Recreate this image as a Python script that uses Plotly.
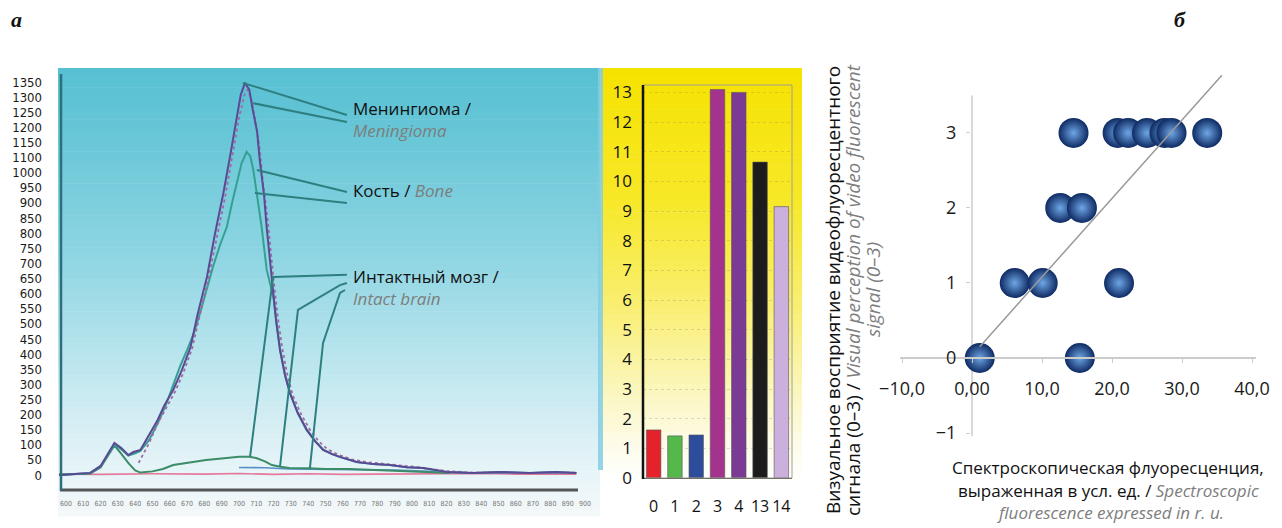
import plotly.graph_objects as go

W, H = 1282, 528
FONT = "Open Sans, Noto Sans, sans-serif"
GRAY_IT = "#7d7d7d"

# ---------------- Panel а : fluorescence spectra ----------------
wl_ticks = list(range(600, 901, 10))
spec_tickvals = list(range(0, 1301, 50))
spec_ticktext = [str(v) for v in range(0, 1001, 50)] + ["1100", "1150", "1200", "1250", "1300", "1350"]

men_wl = [596, 598, 605, 614, 620, 624, 628, 632, 636, 639, 643, 647, 653, 657, 662, 667, 672, 676, 681.5, 686,
          691, 695, 699, 701, 703.5, 706, 708, 710.5, 712, 714.5, 716, 718, 719.7, 721.4, 723.7, 726.6, 729.5,
          734, 739.3, 744, 748.6, 753.8, 758.4, 768, 777.5, 787.3, 797, 806.4, 813.3, 820, 835, 851, 868, 883, 895]
men_val = [0, 0, 3, 7, 30, 66, 106, 89, 66, 76, 83, 122, 182, 232, 281, 347, 423, 529, 655, 794,
           933, 1059, 1184, 1257, 1297, 1274, 1207, 1135, 1042, 926, 820, 711, 602, 513, 413, 331, 271,
           205, 149, 112, 83, 69, 60, 43, 36, 33, 26, 23, 17, 10, 7, 10, 7, 10, 7]

men2_wl = [642, 648, 653, 658, 663, 668, 673, 677, 682, 687, 692, 696, 700, 703, 705, 707, 709.5, 712, 714,
           716.5, 718.5, 720.5, 722.5, 725, 728, 731, 736, 741, 746, 751, 757, 765, 775, 790, 805, 820, 835,
           850, 870, 895]
men2_val = [40, 105, 170, 225, 275, 340, 420, 520, 640, 780, 920, 1050, 1180, 1255, 1275, 1245, 1175, 1080,
            960, 850, 730, 620, 520, 420, 330, 265, 200, 150, 112, 86, 68, 52, 42, 33, 25, 13, 8, 8, 6, 8]

bone_wl = [596, 606, 614, 620, 624, 628, 632, 636, 640, 643, 648, 653, 658, 662, 666, 670, 674, 677.5, 681,
           685, 689, 693, 696, 698.6, 701.5, 704.4, 706.5, 708.3, 710.2, 713.1, 716, 718, 720, 722, 724,
           726.6, 729.5, 734, 739, 744, 749, 754, 758, 768, 778, 787, 797, 806, 813, 820, 835, 851, 868, 883, 895]
bone_val = [0, 3, 6, 28, 62, 100, 85, 64, 72, 80, 115, 170, 235, 300, 360, 413, 470, 535, 605,
            689, 760, 821, 900, 965, 1031, 1069, 1055, 1009, 933, 821, 680, 630, 585, 490, 410,
            331, 271, 205, 149, 112, 83, 69, 60, 43, 36, 33, 26, 23, 17, 10, 7, 10, 7, 10, 7]

brain_wl = [596, 606, 614, 620, 624, 628, 632, 636, 640, 643, 650, 656, 662, 670, 681, 690, 700, 706, 710,
            715, 719, 724, 729, 740, 750, 764, 780, 798, 810, 822]
brain_val = [2, 3, 5, 25, 60, 98, 70, 40, 15, 8, 12, 20, 33, 40, 50, 55, 60, 60, 56,
             45, 33, 27, 23, 22, 20, 20, 17, 13, 10, 7]

brain2_wl = [700, 715, 729, 750, 770, 790, 810, 830, 850, 895]
brain2_val = [25, 24, 20, 19, 18, 16, 12, 8, 7, 7]

base_wl = [596, 620, 650, 680, 700, 720, 740, 760, 780, 800, 820, 840, 860, 880, 895]
base_val = [3, 2, 4, 3, 5, 2, 4, 2, 3, 4, 3, 5, 3, 4, 3]

# ---------------- Bar chart ----------------
bar_cats = ["0", "1", "2", "3", "4", "13", "14"]
bar_vals = [1.62, 1.42, 1.45, 13.1, 13.0, 10.65, 9.15]
bar_colors = ["#e3222c", "#55b84a", "#2d4d9c", "#a3338c", "#7b3b95", "#1c1c1c", "#cbb0de"]
bar_ticks = list(range(0, 14))

# ---------------- Panel б : scatter ----------------
sc_x = [1.1, 15.4, 6.1, 10.1, 21.0, 12.6, 15.7, 14.5, 20.8, 22.3, 25.0, 27.5, 28.5, 33.6]
sc_y = [0, 0, 1, 1, 1, 2, 2, 3, 3, 3, 3, 3, 3, 3]
trend_x = [1.1, 35.7]
trend_y = [0.15, 3.77]
sc_xticks = [-10, 0, 10, 20, 30, 40]
sc_xticktext = ["\u221210,0", "0,00", "10,0", "20,0", "30,0", "40,0"]
sc_yticks = [-1, 0, 1, 2, 3]
sc_yticktext = ["\u22121", "0", "1", "2", "3"]


def px(x):
    return x / W


def py(y):
    return 1 - y / H


fig = go.Figure()

# spectra traces
fig.add_trace(go.Scatter(x=base_wl, y=base_val, mode="lines", line=dict(color="#e6789a", width=1.6),
                         xaxis="x", yaxis="y"))
fig.add_trace(go.Scatter(x=brain2_wl, y=brain2_val, mode="lines", line=dict(color="#5b8fc7", width=1.6),
                         xaxis="x", yaxis="y"))
fig.add_trace(go.Scatter(x=brain_wl, y=brain_val, mode="lines", line=dict(color="#3d8c68", width=2),
                         xaxis="x", yaxis="y"))
fig.add_trace(go.Scatter(x=bone_wl, y=bone_val, mode="lines", line=dict(color="#35a092", width=2),
                         xaxis="x", yaxis="y"))
fig.add_trace(go.Scatter(x=men2_wl, y=men2_val, mode="lines", line=dict(color="#a06a9e", width=1.8, dash="dot"),
                         xaxis="x", yaxis="y"))
fig.add_trace(go.Scatter(x=men_wl, y=men_val, mode="lines", line=dict(color="#5a4a95", width=2),
                         xaxis="x", yaxis="y"))

# bars
fig.add_trace(go.Bar(x=bar_cats, y=bar_vals, marker=dict(color=bar_colors, line=dict(color="#555", width=0.6)),
                     width=0.68, xaxis="x2", yaxis="y2"))

# scatter
fig.add_trace(go.Scatter(x=sc_x, y=sc_y, mode="markers", xaxis="x3", yaxis="y3",
                         marker=dict(size=30, color="#0e2a62", line=dict(width=0),
                                     gradient=dict(type="radial", color="#6ea6e6"))))
fig.add_trace(go.Scatter(x=trend_x, y=trend_y, mode="lines", xaxis="x3", yaxis="y3",
                         line=dict(color="#9a9a9a", width=1.5)))

shapes = []


def gradient(x0, x1, stops, n):
    ys, ye = stops[0][0], stops[-1][0]
    for i in range(n):
        ya = ys + (ye - ys) * i / n
        yb = ys + (ye - ys) * (i + 1) / n
        ym = (ya + yb) / 2
        for j in range(len(stops) - 1):
            if stops[j][0] <= ym <= stops[j + 1][0]:
                t = (ym - stops[j][0]) / (stops[j + 1][0] - stops[j][0])
                c = [round(stops[j][1][k] + (stops[j + 1][1][k] - stops[j][1][k]) * t) for k in range(3)]
                break
        shapes.append(dict(type="rect", xref="paper", yref="paper", x0=px(x0), x1=px(x1),
                           y0=py(yb + 0.6), y1=py(ya), fillcolor="rgb(%d,%d,%d)" % tuple(c),
                           line=dict(width=0), layer="below"))


gradient(58, 600, [(68, (86, 192, 210)), (150, (108, 200, 216)), (250, (140, 212, 226)),
                   (350, (182, 228, 237)), (430, (216, 239, 244)), (480, (233, 245, 248)),
                   (516, (244, 248, 249))], 70)
gradient(600, 802, [(68, (246, 226, 0)), (200, (247, 232, 40)), (300, (249, 238, 110)),
                    (380, (251, 245, 180)), (440, (253, 251, 230)), (480, (255, 255, 255))], 60)
shapes.append(dict(type="rect", xref="paper", yref="paper", x0=px(598), x1=px(603), y0=py(470), y1=py(68),
                   fillcolor="rgba(130,205,228,0.85)", line=dict(width=0), layer="below"))

# spectrum axis lines
shapes.append(dict(type="line", xref="paper", yref="paper", x0=px(60), x1=px(578), y0=py(490), y1=py(490),
                   line=dict(color="#555555", width=3)))
shapes.append(dict(type="line", xref="paper", yref="paper", x0=px(61), x1=px(61), y0=py(491), y1=py(74),
                   line=dict(color="#2d6f7a", width=2.5)))

# bar chart frame
shapes.append(dict(type="rect", xref="paper", yref="paper", x0=px(643), x1=px(792), y0=py(478), y1=py(85),
                   line=dict(color="#a0a090", width=1)))
shapes.append(dict(type="line", xref="paper", yref="paper", x0=px(643), x1=px(643), y0=py(479), y1=py(85),
                   line=dict(color="#111111", width=2.5)))

# scatter vertical axis line
shapes.append(dict(type="line", xref="x3", yref="y3", x0=0, x1=0, y0=-1.04, y1=3.5,
                   line=dict(color="#cccccc", width=1.5), layer="below"))

# leader lines (data coords of spectrum panel)
LEAD = dict(color="#2e7f80", width=2)
leaders = [
    [(702.3, 1297), (762.4, 1191)],
    [(708.1, 1230), (762.4, 1168)],
    [(710.4, 1009), (762.4, 936)],
    [(709.2, 933), (762.4, 900)],
    [(706.4, 60), (719.7, 655), (762.4, 662)],
    [(723.7, 27), (734.1, 546), (758.4, 628), (762.4, 635)],
    [(741.0, 23), (748.6, 437), (758.4, 602), (761.3, 612)],
]
for pts in leaders:
    path = "M " + " L ".join("%s,%s" % p for p in pts)
    shapes.append(dict(type="path", xref="x", yref="y", path=path, line=LEAD))

ann = []


def text(x, y, s, size, anchor="left", angle=0, color="#111111", fam=FONT):
    ann.append(dict(x=px(x), y=py(y), xref="paper", yref="paper", text=s, showarrow=False,
                    xanchor=anchor, yanchor="middle", textangle=angle,
                    font=dict(family=fam, size=size, color=color)))


gspan = "<i><span style='color:%s'>%s</span></i>"
text(351, 109, "Менингиома /", 17)
text(351, 131, gspan % (GRAY_IT, "Meningioma"), 17)
text(351, 190, "Кость / " + gspan % (GRAY_IT, "Bone"), 17)
text(351, 276, "Интактный мозг /", 17)
text(351, 298, gspan % (GRAY_IT, "Intact brain"), 17)

# panel б axis titles
text(833, 290, "Визуальное восприятие видеофлуоресцентного", 19, anchor="center", angle=-90)
text(853, 290, "сигнала (0–3) / " + gspan % (GRAY_IT, "Visual perception of video fluorescent"), 19,
     anchor="center", angle=-90)
text(873, 290, gspan % (GRAY_IT, "signal (0–3)"), 19, anchor="center", angle=-90)

text(1108, 467, "Спектроскопическая флуоресценция,", 17, anchor="center")
text(1108, 490, "выраженная в усл. ед. / " + gspan % (GRAY_IT, "Spectroscopic"), 17, anchor="center")
text(1110, 512, gspan % (GRAY_IT, "fluorescence expressed in r. u."), 17, anchor="center")

# panel letters
text(16, 19, "<b><i>а</i></b>", 22, anchor="center", fam="Liberation Serif, DejaVu Serif, serif")
text(1180, 19, "<b><i>б</i></b>", 22, anchor="center", fam="Liberation Serif, DejaVu Serif, serif")

fig.update_layout(
    width=W, height=H, autosize=False,
    margin=dict(l=0, r=0, t=0, b=0, autoexpand=False),
    paper_bgcolor="white", plot_bgcolor="rgba(0,0,0,0)",
    showlegend=False, bargap=0.3,
    shapes=shapes, annotations=ann,
    xaxis=dict(domain=[px(58), px(590)], range=[595.4, 902.9], anchor="y", automargin=False,
               tickmode="array", tickvals=wl_ticks, ticktext=[str(v) for v in wl_ticks], tickangle=0,
               tickfont=dict(family="Liberation Sans Narrow, DejaVu Sans Condensed, " + FONT, size=7, color="#777777"),
               ticks="", ticklabelstandoff=8, showgrid=False, zeroline=False, showline=False),
    yaxis=dict(domain=[py(490), py(68)], range=[-49.6, 1346.3], anchor="x", automargin=False,
               tickmode="array", tickvals=spec_tickvals, ticktext=spec_ticktext,
               tickfont=dict(family="Liberation Sans Narrow, DejaVu Sans Condensed, " + FONT, size=13, color="#1a1a1a"),
               ticks="", ticklabelstandoff=15, showgrid=False, zeroline=False, showline=False),
    xaxis2=dict(domain=[px(643), px(792)], anchor="y2", type="category", automargin=False, tickangle=0,
                tickfont=dict(family=FONT, size=16, color="#111111"), ticks="", ticklabelstandoff=14,
                showgrid=False, zeroline=False, showline=True, linecolor="#444444", linewidth=1),
    yaxis2=dict(domain=[py(478), py(85)], range=[0, 13.25], anchor="x2", automargin=False,
                tickmode="array", tickvals=bar_ticks,
                tickfont=dict(family=FONT, size=17, color="#111111"), ticks="", ticklabelstandoff=10,
                showgrid=True, gridcolor="rgba(120,120,90,0.25)", griddash="dot", gridwidth=1,
                zeroline=False, showline=False),
    xaxis3=dict(domain=[px(900), px(1256)], range=[-10.29, 40.57], anchor="free", position=py(358),
                automargin=False, tickangle=0,
                tickmode="array", tickvals=sc_xticks, ticktext=sc_xticktext,
                tickfont=dict(family=FONT, size=18, color="#1a1a1a"),
                ticks="outside", ticklen=4, tickcolor="#cccccc", ticklabelstandoff=11,
                showgrid=False, zeroline=False, showline=True, linecolor="#cccccc", linewidth=1.5),
    yaxis3=dict(domain=[py(436), py(75)], range=[-1.04, 3.773], anchor="free", position=px(970),
                automargin=False,
                tickmode="array", tickvals=sc_yticks, ticktext=sc_yticktext,
                tickfont=dict(family=FONT, size=18, color="#1a1a1a"),
                ticks="outside", ticklen=4, tickcolor="#cccccc", ticklabelstandoff=6,
                showgrid=False, zeroline=False, showline=False),
)

fig.write_html("out.html", config={"displayModeBar": False},
               post_script="document.body.style.margin='0px';document.body.style.padding='0px';")
